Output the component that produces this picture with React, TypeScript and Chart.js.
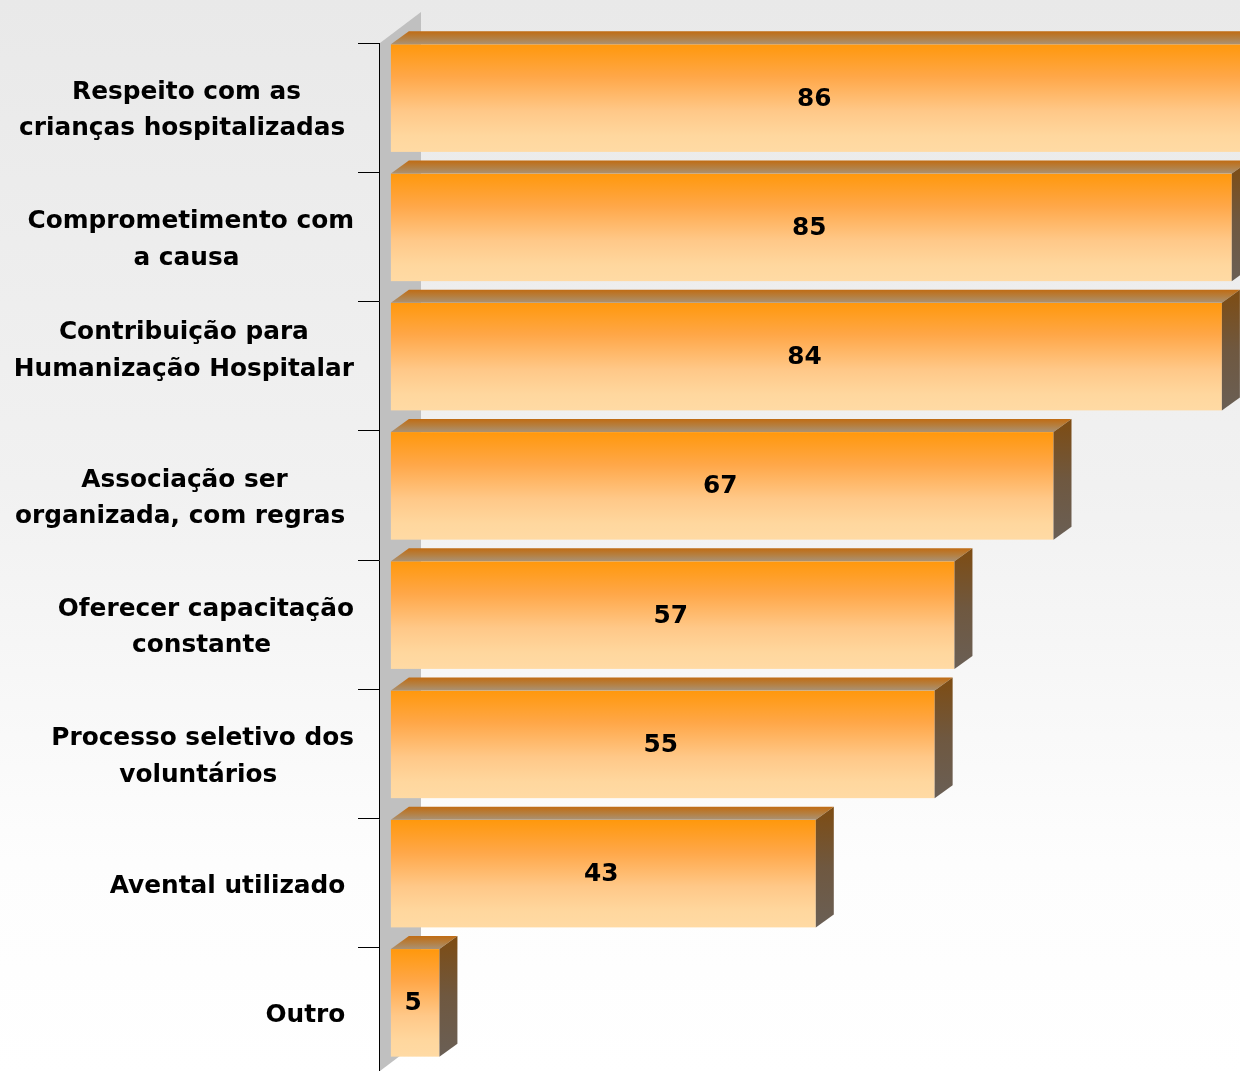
import React, { useEffect, useRef } from "react";
import { Chart, registerables } from "chart.js";

Chart.register(...registerables);

const categories: string[][] = [
  ["Respeito com as", "crianças hospitalizadas "],
  ["Comprometimento com", "a causa "],
  ["Contribuição para", "Humanização Hospitalar", " "],
  ["Associação ser", "organizada, com regras "],
  ["Oferecer capacitação", "constante "],
  ["Processo seletivo dos", "voluntários "],
  ["Avental utilizado "],
  ["Outro "],
];
const values: number[] = [86, 85, 84, 67, 57, 55, 43, 5];

const FONT = "bold 24.8px 'DejaVu Sans', Verdana, sans-serif";
const DEPTH_X = 18;
const DEPTH_Y = 13;
const FACE_SHIFT = -9.5;
const WALL_DX = 41;
const WALL_DY = 31;
const LABEL_RIGHT = 354;
const LINE_H = 36.5;

const bg3dPlugin = {
  id: "bg3d",
  beforeDraw(chart: any) {
    const { ctx, width, height } = chart;
    const g = ctx.createLinearGradient(0, 0, 0, height);
    g.addColorStop(0, "#e9e9e9");
    g.addColorStop(0.45, "#f1f1f1");
    g.addColorStop(0.8, "#fdfdfd");
    g.addColorStop(1, "#ffffff");
    ctx.save();
    ctx.fillStyle = g;
    ctx.fillRect(0, 0, width, height);
    ctx.restore();
  },
  beforeDatasetsDraw(chart: any) {
    const { ctx, chartArea } = chart;
    const x0 = chartArea.left + 1;
    const top = chartArea.top;
    const bottom = chart.height - 6;
    ctx.save();
    ctx.fillStyle = "#c0c0c0";
    ctx.beginPath();
    ctx.moveTo(x0, top);
    ctx.lineTo(x0 + WALL_DX, top - WALL_DY);
    ctx.lineTo(x0 + WALL_DX, bottom - WALL_DY);
    ctx.lineTo(x0, bottom);
    ctx.closePath();
    ctx.fill();
    ctx.restore();
  },
  afterDatasetsDraw(chart: any) {
    const { ctx } = chart;
    const meta = chart.getDatasetMeta(0);
    const yScale = chart.scales.y;
    ctx.save();
    meta.data.forEach((bar: any, i: number) => {
      const p = bar.getProps(["x", "y", "base", "height"], true);
      const L = p.base + 1;
      const R = p.x;
      const T = p.y - p.height / 2 + FACE_SHIFT;
      const B = p.y + p.height / 2 + FACE_SHIFT;
      // front face
      const gf = ctx.createLinearGradient(0, T, 0, B);
      gf.addColorStop(0, "#ff980c");
      gf.addColorStop(0.3, "#ffa748");
      gf.addColorStop(0.62, "#ffc888");
      gf.addColorStop(0.85, "#ffd79e");
      gf.addColorStop(1, "#ffdaa4");
      ctx.fillStyle = gf;
      ctx.fillRect(L, T, R - L, B - T);
      // top face
      const gt = ctx.createLinearGradient(0, T - DEPTH_Y, 0, T);
      gt.addColorStop(0, "#c06c14");
      gt.addColorStop(0.5, "#b57f40");
      gt.addColorStop(1, "#a99276");
      ctx.fillStyle = gt;
      ctx.beginPath();
      ctx.moveTo(L, T);
      ctx.lineTo(R, T);
      ctx.lineTo(R + DEPTH_X, T - DEPTH_Y);
      ctx.lineTo(L + DEPTH_X, T - DEPTH_Y);
      ctx.closePath();
      ctx.fill();
      // side face
      const gs = ctx.createLinearGradient(0, T - DEPTH_Y, 0, B);
      gs.addColorStop(0, "#7e4c12");
      gs.addColorStop(0.5, "#6f5840");
      gs.addColorStop(1, "#6a5f55");
      ctx.fillStyle = gs;
      ctx.beginPath();
      ctx.moveTo(R, T);
      ctx.lineTo(R + DEPTH_X, T - DEPTH_Y);
      ctx.lineTo(R + DEPTH_X, B - DEPTH_Y);
      ctx.lineTo(R, B);
      ctx.closePath();
      ctx.fill();
      // value label
      ctx.fillStyle = "#000";
      ctx.font = FONT;
      ctx.textAlign = "center";
      ctx.textBaseline = "middle";
      ctx.fillText(String(values[i]), (L + R) / 2 - 2, (T + B) / 2 + 1);
    });
    // category labels
    ctx.font = FONT;
    ctx.fillStyle = "#000";
    ctx.textAlign = "center";
    ctx.textBaseline = "middle";
    categories.forEach((lines, i) => {
      const cy = yScale.getPixelForValue(i) + 3;
      const maxW = Math.max(...lines.map((l) => ctx.measureText(l).width));
      const cx = LABEL_RIGHT - maxW / 2;
      const startY = cy - ((lines.length - 1) * LINE_H) / 2;
      lines.forEach((l, k) => ctx.fillText(l, cx, startY + k * LINE_H));
    });
    ctx.restore();
  },
};

export default function App() {
  const ref = useRef<HTMLCanvasElement | null>(null);
  useEffect(() => {
    if (!ref.current) return;
    const chart = new Chart(ref.current, {
      type: "bar",
      data: {
        labels: categories.map((c) => c.join(" ").trim()),
        datasets: [
          {
            data: values,
            backgroundColor: "rgba(0,0,0,0)",
            borderWidth: 0,
            barPercentage: 0.832,
            categoryPercentage: 1,
            clip: false as any,
          },
        ],
      },
      options: {
        indexAxis: "y",
        responsive: false,
        animation: false,
        devicePixelRatio: 1,
        layout: { padding: { top: 43, right: 0, bottom: 0, left: 0 } },
        plugins: { legend: { display: false }, tooltip: { enabled: false } },
        scales: {
          x: { display: false, min: -1.1, max: 85.83 },
          y: {
            display: true,
            ticks: { display: false },
            grid: {
              display: true,
              drawOnChartArea: false,
              drawTicks: true,
              tickLength: 21,
              offset: true,
              color: "#000",
              lineWidth: 1,
            },
            border: { display: true, color: "#000", width: 1 },
            afterFit: (scale: any) => {
              scale.width = 379;
            },
          },
        },
      },
      plugins: [bg3dPlugin],
    });
    return () => chart.destroy();
  }, []);
  return (
    <div
      style={{
        position: "absolute",
        left: 0,
        top: 0,
        width: 1240,
        height: 1071,
        overflow: "hidden",
      }}
    >
      <canvas ref={ref} width={1240} height={1077} style={{ display: "block" }} />
    </div>
  );
}
